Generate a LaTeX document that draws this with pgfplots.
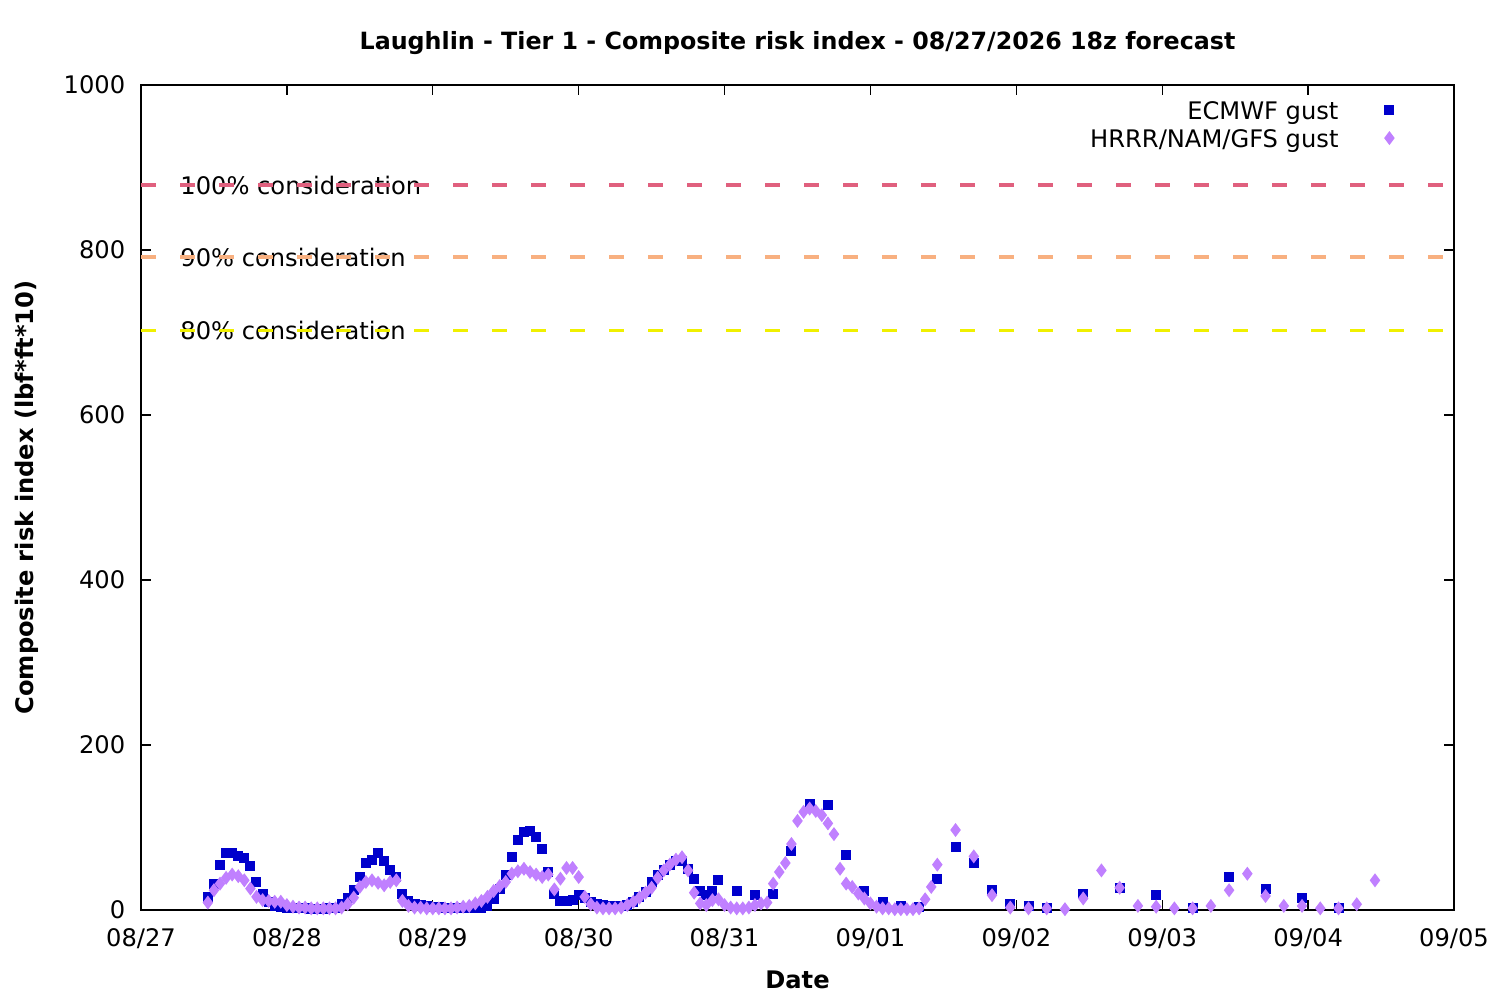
\documentclass[border=0pt]{standalone}
\usepackage{fontspec}
\setmainfont{DejaVu Sans}
\usepackage{pgfplots}
\pgfplotsset{compat=1.18}
\definecolor{ecm}{RGB}{0,0,204}
\definecolor{hrrr}{RGB}{192,128,255}
\definecolor{c100}{RGB}{224,96,126}
\definecolor{c90}{RGB}{248,176,128}
\definecolor{c80}{RGB}{240,240,0}
\begin{document}
\fontsize{8.7}{10.4}\selectfont
\begin{tikzpicture}
\useasboundingbox (-50.76pt,-32.4pt) rectangle (489.24pt,327.6pt);
\begin{axis}[
  at={(0,0)}, anchor=south west,
  scale only axis, width=472.68pt, height=297pt,
  xmin=0, xmax=216, ymin=0, ymax=1000,
  xtick={0,24,...,216},
  xticklabels={08/27,08/28,08/29,08/30,08/31,09/01,09/02,09/03,09/04,09/05},
  ytick={0,200,...,1000},
  tick align=inside, major tick length=3.6pt,
  minor tick num=0,
  axis line style={line width=0.5pt},
  tick style={line width=0.5pt, black},
  /pgf/number format/assume math mode=true,
  /pgf/number format/1000 sep={},
  xticklabel style={anchor=base, yshift=-13.2pt, font=\fontsize{8.7}{10.4}\selectfont},
  yticklabel style={anchor=east, xshift=-2.6pt, font=\fontsize{8.7}{10.4}\selectfont},
  title={\bfseries Laughlin - Tier 1 - Composite risk index - 08/27/2026 18z forecast},
  every axis title/.style={at={(0.5,1)}, anchor=center, yshift=15.1pt, font=\fontsize{8.55}{10.4}\selectfont},
  xlabel={\bfseries Date},
  every axis x label/.style={at={(0.5,0)}, anchor=center, yshift=-25.2pt, font=\fontsize{8.7}{10.4}\selectfont},
  ylabel={\bfseries Composite risk index (lbf*ft*10)},
  every axis y label/.style={at={(0,0.5)}, anchor=center, rotate=90, yshift=41pt, font=\fontsize{8.7}{10.4}\selectfont},
  legend plot pos=right,
  legend cell align=right,
  legend image post style={yshift=1.1pt},
  legend style={draw=none, fill=none, at={(1,1)}, anchor=north east,
    xshift=-21.4pt, yshift=-5.8pt, inner sep=0pt,
    column sep=16.7pt, row sep=1.9pt,
    font=\fontsize{8.7}{10.4}\selectfont,
    nodes={inner sep=0pt, text height=6.4pt, text depth=1.8pt}},
  clip=false,
]
\addplot[only marks, mark=square*, mark size=1.6pt, color=ecm] coordinates {
(11,16)(12,32)(13,55)(14,69)(15,69)(16,65)(17,63)(18,53)(19,34)(20,19)
(21,10)(22,5)(23,4)(24,3)(25,2)(26,2)(27,2)(28,1)(29,1)(30,1)
(31,2)(32,3)(33,7)(34,15)(35,24)(36,40)(37,57)(38,61)(39,69)(40,59)
(41,48)(42,40)(43,19)(44,11)(45,7)(46,6)(47,5)(48,4)(49,4)(50,3)
(51,3)(52,3)(53,3)(54,3)(55,3)(56,3)(57,5)(58,13)(59,26)(60,43)
(61,64)(62,85)(63,95)(64,96)(65,88)(66,74)(67,46)(68,19)(69,11)(70,11)
(71,12)(72,18)(73,14)(74,10)(75,7)(76,6)(77,5)(78,5)(79,5)(80,6)
(81,10)(82,16)(83,22)(84,34)(85,43)(86,48)(87,55)(88,59)(89,59)(90,50)
(91,38)(92,23)(93,18)(94,23)(95,36)(98,23)(101,18)(104,19)(107,72)(110,129)
(113,127)(116,67)(119,23)(122,10)(125,5)(128,4)(131,37)(134,76)(137,57)(140,24)
(143,7)(146,5)(149,2)(155,20)(161,27)(167,18)(173,2)(179,40)(185,25)(191,14)
(197,2)};
\addlegendentry{ECMWF gust}
\addplot[only marks, mark=diamond*, mark size=2.2pt, color=hrrr] coordinates {
(11,9)(12,24)(13,32)(14,39)(15,43)(16,41)(17,36)(18,26)(19,16)(20,12)
(21,11)(22,10)(23,10)(24,6)(25,4)(26,3)(27,3)(28,2)(29,2)(30,2)
(31,2)(32,2)(33,3)(34,7)(35,15)(36,28)(37,34)(38,36)(39,33)(40,30)
(41,34)(42,36)(43,11)(44,5)(45,3)(46,3)(47,2)(48,2)(49,2)(50,2)
(51,2)(52,3)(53,4)(54,5)(55,8)(56,11)(57,16)(58,23)(59,29)(60,34)
(61,44)(62,47)(63,50)(64,46)(65,43)(66,40)(67,43)(68,25)(69,38)(70,51)
(71,51)(72,40)(73,16)(74,7)(75,3)(76,2)(77,2)(78,2)(79,3)(80,6)
(81,10)(82,15)(83,21)(84,27)(85,39)(86,48)(87,55)(88,61)(89,64)(90,48)
(91,21)(92,8)(93,6)(94,12)(95,13)(96,6)(97,3)(98,2)(99,2)(100,3)
(101,6)(102,8)(103,9)(104,32)(105,46)(106,57)(107,80)(108,108)(109,119)(110,123)
(111,120)(112,115)(113,105)(114,92)(115,50)(116,32)(117,28)(118,20)(119,14)(120,8)
(121,4)(122,2)(123,2)(124,1)(125,1)(126,1)(127,1)(128,2)(129,13)(130,28)
(131,55)(134,97)(137,65)(140,18)(143,3)(146,2)(149,2)(152,1)(155,14)(158,48)
(161,27)(164,5)(167,4)(170,2)(173,2)(176,5)(179,24)(182,44)(185,17)(188,5)
(191,5)(194,2)(197,2)(200,7)(203,36)};
\addlegendentry{HRRR/NAM/GFS gust}
\addplot[draw=none, forget plot] coordinates {(6.4,878.8)} node[anchor=west, inner sep=0pt] {100\% consideration};
\addplot[draw=none, forget plot] coordinates {(6.4,791.5)} node[anchor=west, inner sep=0pt] {90\% consideration};
\addplot[draw=none, forget plot] coordinates {(6.4,703)} node[anchor=west, inner sep=0pt] {80\% consideration};
\addplot[forget plot, c100, line width=1.1pt, dash pattern=on 5.4pt off 8.64pt] coordinates {(0,878.8)(216,878.8)};
\addplot[forget plot, c90, line width=1.1pt, dash pattern=on 5.4pt off 8.64pt] coordinates {(0,791.5)(216,791.5)};
\addplot[forget plot, c80, line width=1.1pt, dash pattern=on 5.4pt off 8.64pt] coordinates {(0,703)(216,703)};
\end{axis}
\end{tikzpicture}
\end{document}
